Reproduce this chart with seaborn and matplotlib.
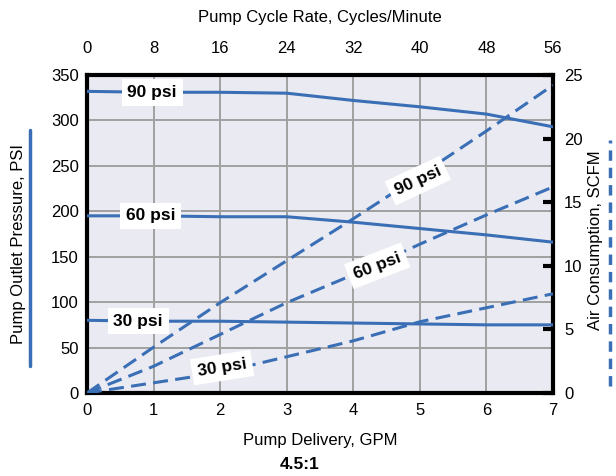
import numpy as np
import pandas as pd
import matplotlib
matplotlib.use("Agg")
import matplotlib.pyplot as plt
import seaborn as sns
from matplotlib.lines import Line2D

# ---- data ----
gpm = [0, 1, 2, 3, 4, 5, 6, 7]
psi_90 = [332, 331, 331, 330, 322, 315, 307, 293]
psi_60 = [195, 195, 194, 194, 188, 181, 174, 166]
psi_30 = [80, 79, 79, 78, 77, 76, 75, 75]
scfm_90 = [0, 3.6, 7.1, 10.4, 13.7, 17.1, 20.6, 24.2]
scfm_60 = [0, 2.1, 4.6, 7.1, 9.3, 11.7, 14.0, 16.2]
scfm_30 = [0, 0.8, 1.6, 2.85, 4.1, 5.6, 6.7, 7.8]
series = ["90 psi", "60 psi", "30 psi"]
x_ticks = [0, 1, 2, 3, 4, 5, 6, 7]
y_ticks = [0, 50, 100, 150, 200, 250, 300, 350]
y2_ticks = [0, 5, 10, 15, 20, 25]
top_ticks = [0, 8, 16, 24, 32, 40, 48, 56]

blue = "#3a6fb6"
DASH = [4.9, 2.4]

pressure = pd.DataFrame({
    "gpm": gpm * 3,
    "value": psi_90 + psi_60 + psi_30,
    "series": sum([[s] * len(gpm) for s in series], []),
})
air = pd.DataFrame({
    "gpm": gpm * 3,
    "value": scfm_90 + scfm_60 + scfm_30,
    "series": sum([[s] * len(gpm) for s in series], []),
})

sns.set_style("darkgrid", {"axes.facecolor": "#eaeaf2", "grid.color": "#a0a0a0",
                           "text.color": "black", "axes.labelcolor": "black",
                           "xtick.color": "black", "ytick.color": "black"})
plt.rcParams["font.family"] = ["Liberation Sans", "DejaVu Sans"]

fig = plt.figure(figsize=(6.16, 4.76), dpi=100)
ax = fig.add_axes([0.1412, 0.1744, 0.7565, 0.668])

for s in series:
    sns.lineplot(data=pressure[pressure.series == s], x="gpm", y="value", ax=ax,
                 color=blue, lw=2.2, legend=False, zorder=3)

ax.set_xlim(0, 7)
ax.set_ylim(0, 350)
ax.set_xticks(x_ticks)
ax.set_yticks(y_ticks)
ax.grid(True, color="#a0a0a0", lw=1.4)
ax.tick_params(axis="x", length=0, labelsize=12, pad=7, colors="black")
ax.tick_params(axis="y", length=0, labelsize=12, pad=6, colors="black")
ax.set_xlabel("Pump Delivery, GPM", fontsize=12, va="center", color="black")
ax.xaxis.set_label_coords(0.5, -0.148)
ax.set_ylabel("Pump Outlet Pressure, PSI", fontsize=12, va="center", color="black")
ax.yaxis.set_label_coords(-0.148, 0.47)
for sp in ax.spines.values():
    sp.set_visible(True)
    sp.set_color("black")
    sp.set_linewidth(3)

ax2 = ax.twinx()
for s in series:
    sns.lineplot(data=air[air.series == s], x="gpm", y="value", ax=ax2,
                 color=blue, lw=2.2, legend=False, zorder=3)
for l in ax2.lines:
    l.set_dashes(DASH)
ax2.set_ylim(0, 25)
ax2.set_yticks(y2_ticks)
ax2.grid(False)
ax2.tick_params(axis="y", direction="in", length=7, width=3, labelsize=12,
                pad=8, colors="black")
ax2.set_ylabel("Air Consumption, SCFM", fontsize=12, va="center", color="black")
ax2.yaxis.set_label_coords(1.092, 0.48)
for sp in ax2.spines.values():
    sp.set_visible(False)

ax3 = ax.twiny()
ax3.set_xlim(0, 56)
ax3.set_xticks(top_ticks)
ax3.grid(False)
ax3.tick_params(axis="x", length=0, labelsize=12, pad=14, colors="black")
ax3.set_xlabel("Pump Cycle Rate, Cycles/Minute", fontsize=12, va="center", color="black")
ax3.xaxis.set_label_coords(0.5, 1.182)
for sp in ax3.spines.values():
    sp.set_visible(False)

box = dict(boxstyle="square,pad=0.33", fc="white", ec="none")
lab = dict(fontsize=12.5, fontweight="bold", ha="center", va="center", bbox=box,
           zorder=5, color="black")
for s, xv, yv in zip(series, [0.98, 0.96, 0.77], [psi_90[1], psi_60[1], psi_30[1]]):
    ax.text(xv, yv, s, **lab)
ax2.text(4.97, 16.7, "90 psi", rotation=25, **lab)
ax2.text(4.36, 10.0, "60 psi", rotation=21, **lab)
ax2.text(2.03, 2.0, "30 psi", rotation=9, **lab)

fig.text(0.486, 0.025, "4.5:1", fontsize=12.5, fontweight="bold", ha="center",
         va="center", color="black")

# legend-like indicator lines next to axis labels
fig.add_artist(Line2D([0.049, 0.049], [0.232, 0.727], color=blue, lw=2.5,
                      transform=fig.transFigure))
fig.add_artist(Line2D([0.99, 0.99], [0.19, 0.706], color=blue, lw=2.5,
                      dashes=[3, 2], transform=fig.transFigure))

fig.savefig("out.png", dpi=100)
